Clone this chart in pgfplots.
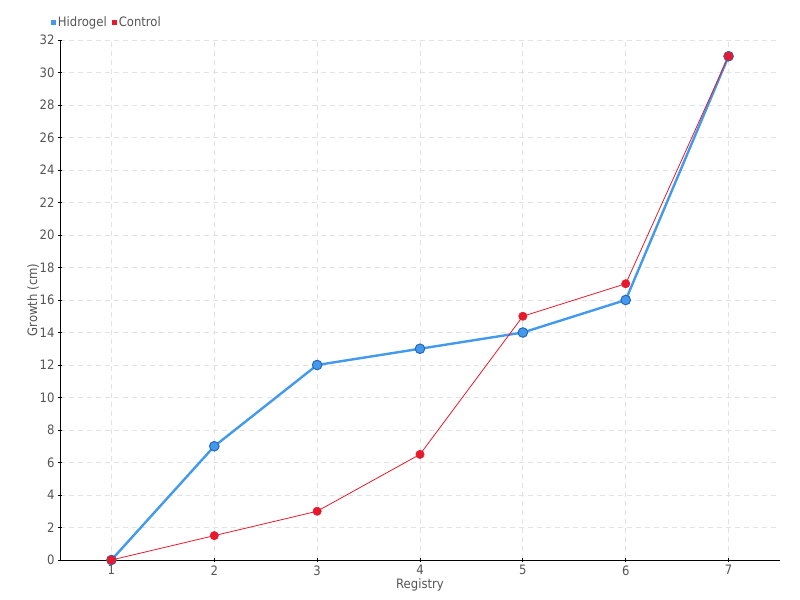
\documentclass[border=0pt]{standalone}
\usepackage{fontspec}
\setmainfont{DejaVu Sans Condensed}
\usepackage{pgfplots}
\pgfplotsset{compat=1.18}
\definecolor{hblue}{HTML}{4299EE}
\definecolor{hblueedge}{HTML}{2A66B8}
\definecolor{cred}{HTML}{E8192C}
\definecolor{txtgray}{HTML}{555555}
\definecolor{gridgray}{HTML}{E2E2E2}
\begin{document}
\begin{tikzpicture}
\begin{axis}[
    scale only axis,
    width=720bp, height=520bp,
    xmin=0.5, xmax=7.5,
    ymin=0, ymax=32,
    xtick={1,...,7},
    ytick={0,2,...,32},
    axis x line*=bottom,
    axis y line*=left,
    axis line style={black, line width=0.8pt},
    tick style={black, line width=0.8pt},
    major tick length=4bp,
    tick align=center,
    grid=major,
    major grid style={gridgray, dashed, dash pattern=on 5bp off 4bp, line width=0.8pt},
    tick label style={font=\fontsize{13}{13}\selectfont, text=txtgray},
    /pgf/number format/assume math mode=true,
    xlabel={Registry},
    ylabel={Growth (cm)},
    label style={font=\fontsize{13}{13}\selectfont, text=txtgray},
    xlabel style={yshift=3bp},
    ylabel style={yshift=-6bp},
    legend columns=2,
    legend style={at={(rel axis cs:-0.017,1.0345)}, anchor=west, draw=none, fill=none,
        font=\fontsize{13}{13}\selectfont, text=txtgray,
        /tikz/every even column/.append style={column sep=3bp}},
    legend image code/.code={\fill[#1, draw=none] (0bp,-2.5bp) rectangle (5bp,2.5bp);},
]
\addplot[hblue, line width=2.4pt, mark=*, mark size=4.8bp,
    mark options={fill=hblue, draw=hblueedge, line width=1pt}]
    coordinates {(1,0) (2,7) (3,12) (4,13) (5,14) (6,16) (7,31)};
\addlegendentry{Hidrogel}
\addplot[cred, line width=0.8pt, mark=*, mark size=4.2bp,
    mark options={fill=cred, draw=cred, line width=0.5pt}]
    coordinates {(1,0) (2,1.5) (3,3) (4,6.5) (5,15) (6,17) (7,31)};
\addlegendentry{Control}
\coordinate (bl) at (rel axis cs:0,0);
\coordinate (tr) at (rel axis cs:1,1);
\end{axis}
\pgfresetboundingbox
\path ([xshift=-60bp,yshift=-40bp]bl) rectangle ([xshift=20bp,yshift=40bp]tr);
\end{tikzpicture}
\end{document}
